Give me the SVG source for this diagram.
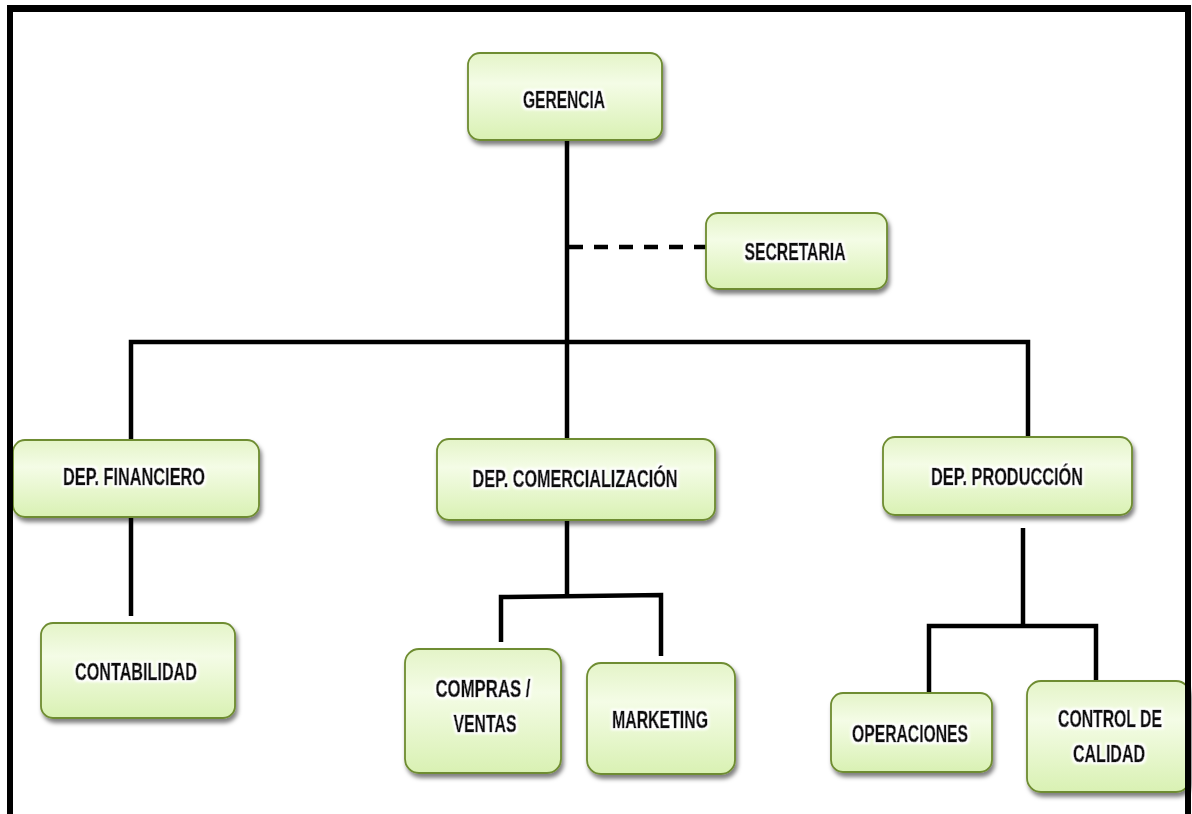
<svg xmlns="http://www.w3.org/2000/svg" width="1192" height="814" viewBox="0 0 1192 814">
  <defs>
    <linearGradient id="boxFill" x1="0" y1="0" x2="0" y2="1">
      <stop offset="0" stop-color="#e4f4c8"/>
      <stop offset="0.35" stop-color="#f4fce6"/>
      <stop offset="1" stop-color="#d9f1b3"/>
    </linearGradient>
    <filter id="shadow" x="-10%" y="-10%" width="125%" height="135%">
      <feDropShadow dx="2" dy="4" stdDeviation="2" flood-color="#000" flood-opacity="0.5"/>
    </filter>
    <filter id="glow" x="-10%" y="-30%" width="120%" height="160%">
      <feMorphology in="SourceAlpha" operator="dilate" radius="1.5" result="fat"/>
      <feFlood flood-color="#ffffff" result="white"/>
      <feComposite in="white" in2="fat" operator="in" result="halo"/>
      <feGaussianBlur in="halo" stdDeviation="1.2" result="soft"/>
      <feMerge>
        <feMergeNode in="soft"/>
        <feMergeNode in="SourceGraphic"/>
      </feMerge>
    </filter>
  </defs>
  <style>
    .box { fill: url(#boxFill); stroke: #6e8c30; stroke-width: 1.8; filter: url(#shadow); }
    .lbl { font-family: "Liberation Sans", Arial, sans-serif; font-weight: bold; font-size: 24px; fill: #111; stroke: #111; stroke-width: 0.7; text-anchor: middle; filter: url(#glow); }
    .wire { stroke: #000; stroke-width: 4.5; fill: none; }
    .dash { stroke: #000; stroke-width: 4.5; fill: none; stroke-dasharray: 14 11; }
  </style>

  <rect width="1192" height="814" fill="#ffffff"/>

  <!-- connectors -->
  <g id="connectors">
    <!-- Gerencia trunk down to Comercialización -->
    <line class="wire" x1="567" y1="140" x2="567" y2="440"/>
    <!-- staff link to Secretaría -->
    <line class="dash" x1="569" y1="247" x2="706" y2="247"/>
    <!-- department bar -->
    <polyline class="wire" points="131,440 131,342 1028,342 1028,437"/>
    <!-- Financiero to Contabilidad -->
    <line class="wire" x1="131" y1="517" x2="131" y2="616"/>
    <!-- Comercialización branch -->
    <line class="wire" x1="567" y1="520" x2="567" y2="596"/>
    <polyline class="wire" points="501,642 501,597 661,595 661,656"/>
    <!-- Producción branch -->
    <line class="wire" x1="1023" y1="528" x2="1023" y2="626"/>
    <polyline class="wire" points="929,692 929,626 1096,626 1096,683"/>
  </g>

  <g id="gerencia">
    <rect class="box" x="468" y="53" width="194" height="87" rx="12"/>
    <text class="lbl" x="564" y="108" textLength="82" lengthAdjust="spacingAndGlyphs">GERENCIA</text>
  </g>

  <g id="secretaria">
    <rect class="box" x="706" y="213" width="181" height="76" rx="12"/>
    <text class="lbl" x="795" y="260" textLength="101" lengthAdjust="spacingAndGlyphs">SECRETARIA</text>
  </g>

  <g id="dep-financiero">
    <rect class="box" x="13" y="440" width="246" height="77" rx="12"/>
    <text class="lbl" x="134" y="485" textLength="142" lengthAdjust="spacingAndGlyphs">DEP. FINANCIERO</text>
  </g>

  <g id="dep-comercializacion">
    <rect class="box" x="437" y="439" width="278" height="81" rx="12"/>
    <text class="lbl" x="575" y="487" textLength="205" lengthAdjust="spacingAndGlyphs">DEP. COMERCIALIZACIÓN</text>
  </g>

  <g id="dep-produccion">
    <rect class="box" x="883" y="437" width="249" height="78" rx="12"/>
    <text class="lbl" x="1007" y="485" textLength="152" lengthAdjust="spacingAndGlyphs">DEP. PRODUCCIÓN</text>
  </g>

  <g id="contabilidad">
    <rect class="box" x="41" y="623" width="194" height="95" rx="12"/>
    <text class="lbl" x="136" y="680" textLength="122" lengthAdjust="spacingAndGlyphs">CONTABILIDAD</text>
  </g>

  <g id="compras-ventas">
    <rect class="box" x="405" y="649" width="156" height="124" rx="14"/>
    <text class="lbl" x="483" y="697" textLength="95" lengthAdjust="spacingAndGlyphs">COMPRAS /</text>
    <text class="lbl" x="485" y="732" textLength="63" lengthAdjust="spacingAndGlyphs">VENTAS</text>
  </g>

  <g id="marketing">
    <rect class="box" x="587" y="663" width="148" height="111" rx="14"/>
    <text class="lbl" x="660" y="728" textLength="96" lengthAdjust="spacingAndGlyphs">MARKETING</text>
  </g>

  <g id="operaciones">
    <rect class="box" x="831" y="693" width="161" height="79" rx="12"/>
    <text class="lbl" x="910" y="742" textLength="116" lengthAdjust="spacingAndGlyphs">OPERACIONES</text>
  </g>

  <g id="control-calidad">
    <rect class="box" x="1027" y="681" width="163" height="111" rx="14"/>
    <text class="lbl" x="1110" y="727" textLength="104" lengthAdjust="spacingAndGlyphs">CONTROL DE</text>
    <text class="lbl" x="1109" y="762" textLength="72" lengthAdjust="spacingAndGlyphs">CALIDAD</text>
  </g>

  <!-- outer frame (left, top, right edges) -->
  <g id="frame" fill="#000">
    <rect x="7" y="5" width="6" height="809"/>
    <rect x="7" y="5" width="1184" height="7"/>
    <rect x="1185" y="5" width="6" height="809"/>
  </g>
</svg>
